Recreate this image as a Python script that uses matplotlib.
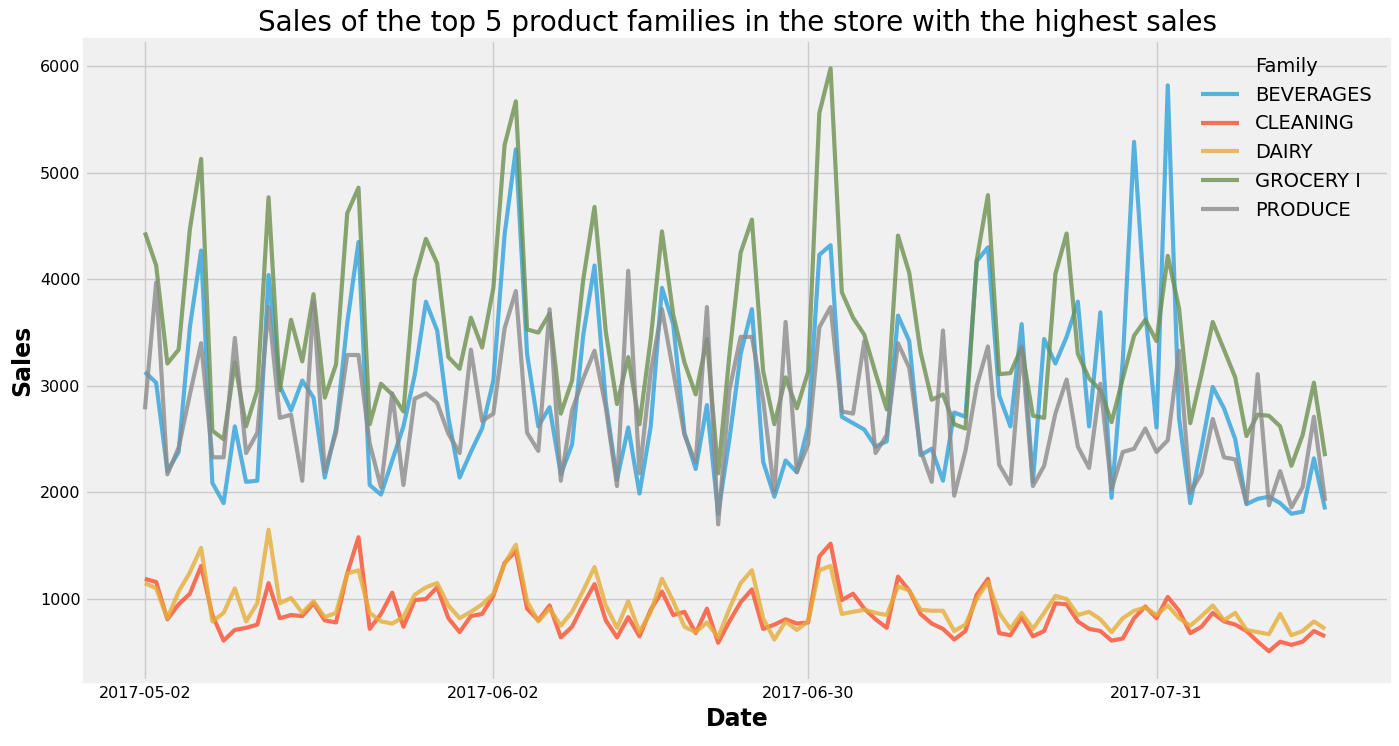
import numpy as np
import pandas as pd
import matplotlib
matplotlib.use("Agg")
import matplotlib.pyplot as plt
import matplotlib.dates as mdates

start = "2017-05-02"
families = ["BEVERAGES", "CLEANING", "DAIRY", "GROCERY I", "PRODUCE"]

beverages = [3130, 3030, 2200, 2380, 3550, 4270, 2090, 1900, 2620, 2100, 2110, 4040, 3000, 2770, 3050, 2890,
             2140, 2600, 3590, 4350, 2070, 1980, 2300, 2620, 3100, 3790, 3520, 2700, 2140, 2380, 2600, 3050,
             4420, 5220, 3300, 2620, 2800, 2170, 2450, 3480, 4130, 2850, 2120, 2610, 1990, 2620, 3920, 3580,
             2560, 2220, 2820, 1800, 2500, 3300, 3720, 2290, 1960, 2300, 2190, 2620, 4230, 4320, 2710, 2650,
             2590, 2430, 2480, 3660, 3420, 2350, 2410, 2110, 2750, 2710, 4170, 4300, 2910, 2620, 3580, 2100,
             3440, 3210, 3460, 3790, 2620, 3690, 1950, 3240, 5290, 3700, 2610, 5820, 2700, 1900, 2420, 2990,
             2790, 2500, 1890, 1940, 1960, 1900, 1800, 1820, 2320, 1840]
cleaning = [1190, 1160, 810, 950, 1050, 1310, 850, 610, 710, 730, 760, 1150, 820, 850, 840, 960,
            800, 780, 1240, 1580, 720, 860, 1060, 740, 990, 1000, 1110, 820, 690, 840, 860, 1030,
            1340, 1450, 910, 800, 940, 640, 740, 950, 1140, 800, 640, 830, 650, 900, 1070, 850,
            880, 680, 910, 590, 790, 970, 1090, 720, 760, 810, 770, 780, 1400, 1520, 990, 1050,
            910, 810, 730, 1210, 1080, 860, 770, 720, 620, 700, 1040, 1190, 680, 660, 830, 650,
            700, 960, 950, 790, 720, 700, 610, 630, 820, 930, 820, 1020, 890, 680, 740, 870,
            790, 760, 700, 600, 510, 600, 570, 600, 700, 650]
dairy = [1150, 1100, 820, 1070, 1250, 1480, 790, 870, 1100, 790, 960, 1650, 960, 1010, 870, 980,
         830, 870, 1240, 1270, 870, 790, 770, 830, 1040, 1110, 1150, 940, 820, 880, 950, 1050,
         1330, 1510, 980, 790, 910, 750, 880, 1080, 1300, 940, 730, 980, 690, 880, 1190, 980,
         740, 690, 780, 640, 910, 1150, 1270, 820, 620, 790, 710, 790, 1270, 1310, 860, 880,
         900, 870, 850, 1120, 1080, 900, 890, 890, 700, 760, 1000, 1160, 870, 720, 870, 720,
         870, 1030, 1000, 850, 880, 810, 690, 820, 890, 920, 850, 940, 820, 750, 840, 940,
         800, 870, 710, 690, 670, 860, 660, 700, 790, 720]
grocery = [4440, 4130, 3210, 3340, 4470, 5130, 2580, 2500, 3220, 2620, 2960, 4770, 2960, 3620, 3230, 3860,
           2890, 3200, 4620, 4860, 2640, 3020, 2920, 2760, 4000, 4380, 4150, 3270, 3160, 3640, 3360, 3920,
           5260, 5670, 3530, 3500, 3680, 2740, 3050, 4000, 4680, 3510, 2830, 3270, 2640, 3440, 4450, 3670,
           3220, 2920, 3440, 2180, 3290, 4250, 4560, 3140, 2640, 3080, 2790, 3130, 5560, 5980, 3880, 3640,
           3480, 3120, 2780, 4410, 4060, 3320, 2870, 2920, 2640, 2600, 4180, 4790, 3110, 3120, 3360, 2720,
           2700, 4050, 4430, 3300, 3070, 2960, 2660, 3070, 3470, 3620, 3420, 4220, 3730, 2650, 3110, 3600,
           3340, 3080, 2530, 2730, 2720, 2620, 2250, 2540, 3030, 2340]
produce = [2780, 3970, 2170, 2420, 2920, 3400, 2330, 2330, 3450, 2370, 2560, 3740, 2700, 2730, 2110, 3790,
           2200, 2560, 3290, 3290, 2460, 2050, 2930, 2070, 2880, 2930, 2840, 2550, 2370, 3340, 2670, 2740,
           3540, 3890, 2560, 2390, 3720, 2110, 2770, 3070, 3330, 2800, 2060, 4080, 2180, 3130, 3720, 3140,
           2540, 2280, 3740, 1700, 2960, 3460, 3460, 2870, 2000, 3600, 2190, 2450, 3550, 3740, 2760, 2740,
           3420, 2370, 2540, 3400, 3170, 2400, 2100, 3520, 1970, 2390, 3000, 3370, 2260, 2080, 3370, 2060,
           2250, 2740, 3060, 2430, 2230, 3020, 2030, 2380, 2410, 2600, 2380, 2490, 3330, 2000, 2180, 2690,
           2330, 2310, 1900, 3110, 1880, 2200, 1860, 2050, 2710, 1920]

plt.style.use("fivethirtyeight")
colors = ["#30a2da", "#fc4f30", "#e5ae38", "#6d904f", "#8b8b8b"]

fig, ax = plt.subplots(figsize=(13.99, 7.46), dpi=100)
fig.patch.set_facecolor("white")
for name, vals, c in zip(families, [beverages, cleaning, dairy, grocery, produce], colors):
    dates = pd.date_range(start, periods=len(vals), freq="D")
    ax.plot(dates, vals, color=c, lw=3, alpha=0.8, label=name)

ticks = pd.to_datetime(["2017-05-02", "2017-06-02", "2017-06-30", "2017-07-31"])
ax.set_xticks(ticks)
ax.xaxis.set_major_formatter(mdates.DateFormatter("%Y-%m-%d"))
ax.set_xlim(pd.Timestamp("2017-05-02") - pd.Timedelta(days=5.3),
            pd.Timestamp("2017-05-02") + pd.Timedelta(days=110.7))
ax.set_ylim(230, 6250)
ax.tick_params(labelsize=11.5)
ax.set_title("Sales of the top 5 product families in the store with the highest sales", fontsize=20)
ax.set_xlabel("Date", fontsize=17, fontweight="bold")
ax.set_ylabel("Sales", fontsize=17, fontweight="bold")
leg = ax.legend(title="Family", frameon=False, fontsize=14, title_fontsize=14)
fig.subplots_adjust(left=0.061, right=0.993, top=0.947, bottom=0.087)
fig.savefig("out.png", dpi=100)
